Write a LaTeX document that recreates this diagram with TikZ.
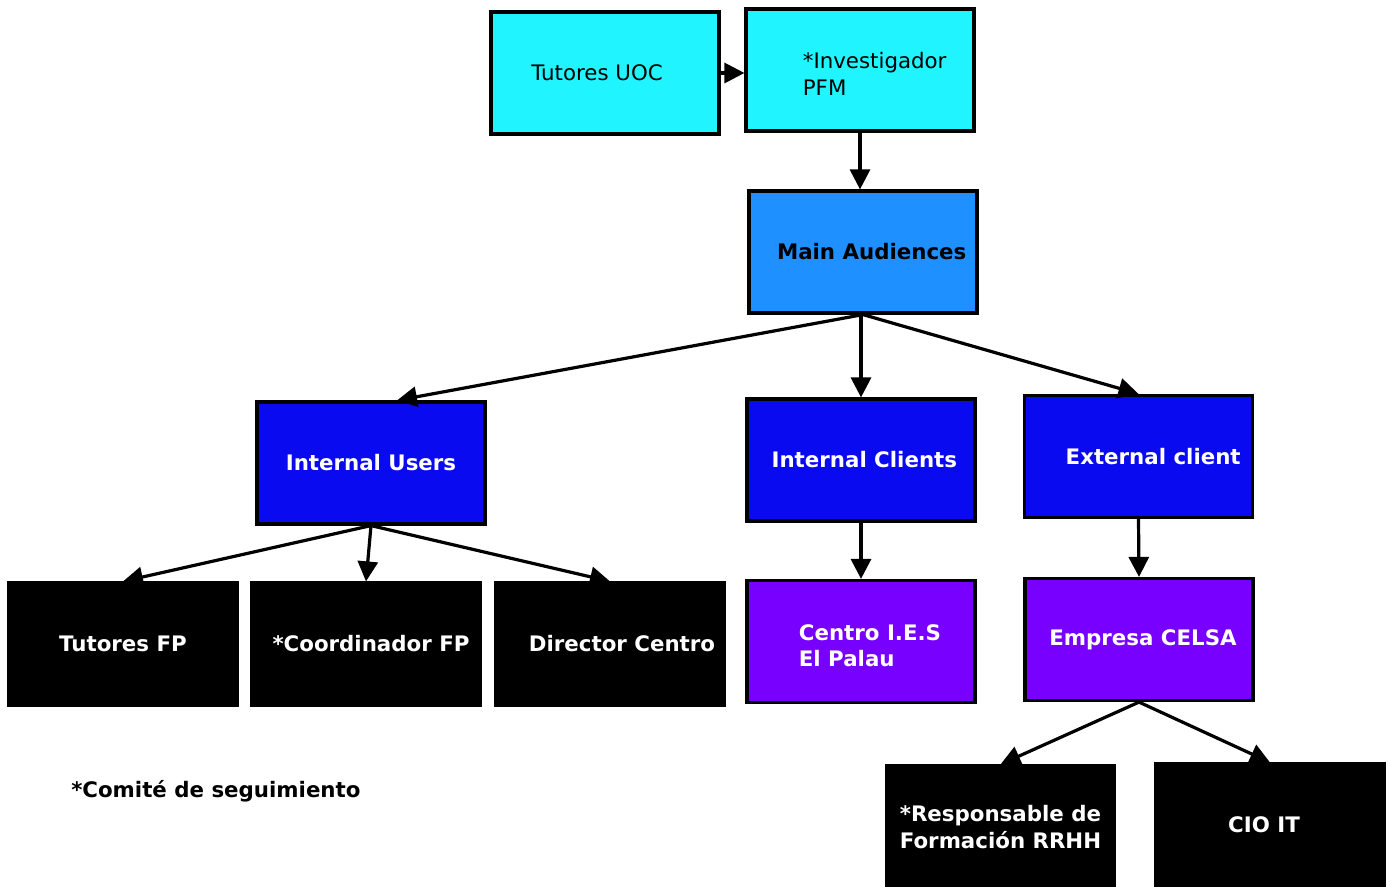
\documentclass[tikz,border=0pt]{standalone}
\usepackage{fontspec}
\setmainfont{DejaVu Sans}
\usetikzlibrary{arrows.meta}
\definecolor{cyanbox}{HTML}{20F4FF}
\definecolor{mainbox}{HTML}{1E90FF}
\definecolor{bluebox}{HTML}{0A0AF0}
\definecolor{purplebox}{HTML}{7700FF}
\tikzset{
  box/.style={draw=black, line width=2.4pt, minimum width=171pt, minimum height=91.5pt,
    inner sep=0pt, font=\fontsize{16}{20}\selectfont, align=left},
  cyanstyle/.style={box, fill=cyanbox, text=black},
  mainstyle/.style={box, fill=mainbox, text=black, font=\fontsize{16}{20}\selectfont\bfseries},
  bluestyle/.style={box, fill=bluebox, text=white, font=\fontsize{16}{20}\selectfont\bfseries},
  purplestyle/.style={box, fill=purplebox, text=white, font=\fontsize{16}{20}\selectfont\bfseries},
  blackstyle/.style={box, fill=black, text=white, font=\fontsize{16}{20}\selectfont\bfseries},
  conn/.style={line width=2.4pt, -{Triangle[length=15pt,width=15pt]}},
}
\begin{document}
\begin{tikzpicture}[x=0.75pt, y=-0.75pt]
\useasboundingbox (0,0) rectangle (1391,887);
\clip (0,0) rectangle (1391,887);
\node[cyanstyle] (tu) at (605,73) {Tutores UOC\hspace*{12pt}};
\node[cyanstyle] (inv) at (860,70) {\vphantom{Ij}\\[-14pt]\hspace*{22pt}*Investigador\\\hspace*{22pt}PFM};
\node[mainstyle] (ma) at (863,252) {\hspace*{13pt}Main Audiences};
\node[bluestyle] (iu) at (371,463) {Internal Users};
\node[bluestyle] (ic) at (861,460) {\hspace*{5pt}Internal Clients};
\node[bluestyle] (ec) at (1138.5,456.5) {\hspace*{22pt}External client};
\node[blackstyle] (tfp) at (123,644) {Tutores FP};
\node[blackstyle] (cfp) at (366,644) {\hspace*{7.5pt}*Coordinador FP};
\node[blackstyle] (dc) at (610,644) {\hspace*{18pt}Director Centro};
\node[purplestyle] (cen) at (861,641.5) {\vphantom{Ij}\\[-14pt]\hspace*{13.5pt}Centro I.E.S\\\hspace*{13.5pt}El Palau};
\node[purplestyle] (emp) at (1139,639.5) {\hspace*{6pt}Empresa CELSA};
\node[blackstyle] (resp) at (1000.5,827) {*Responsable de\\Formación RRHH};
\node[blackstyle] (cio) at (1270,825) {CIO IT\hspace*{9pt}};
\node[font=\fontsize{16}{20}\selectfont\bfseries, anchor=west, inner sep=0pt] (note) at (71,791) {*Comité de seguimiento};

\draw[conn] (tu.east) -- (inv.west |- tu.east);
\draw[conn] (inv.south) -- (inv.south |- ma.north);
\draw[conn] (ma.south) -- ([xshift=19.5pt]iu.north);
\draw[conn] (ic.north |- ma.south) -- (ic.north);
\draw[conn] (ma.south) -- (ec.north);
\draw[conn] (iu.south) -- (tfp.north);
\draw[conn] (iu.south) -- (cfp.north);
\draw[conn] (iu.south) -- (dc.north);
\draw[conn] (ic.south) -- (cen.north);
\draw[conn] (ec.south) -- (emp.north);
\draw[conn] (emp.south) -- (resp.north);
\draw[conn] (emp.south) -- (cio.north);
\end{tikzpicture}
\end{document}
